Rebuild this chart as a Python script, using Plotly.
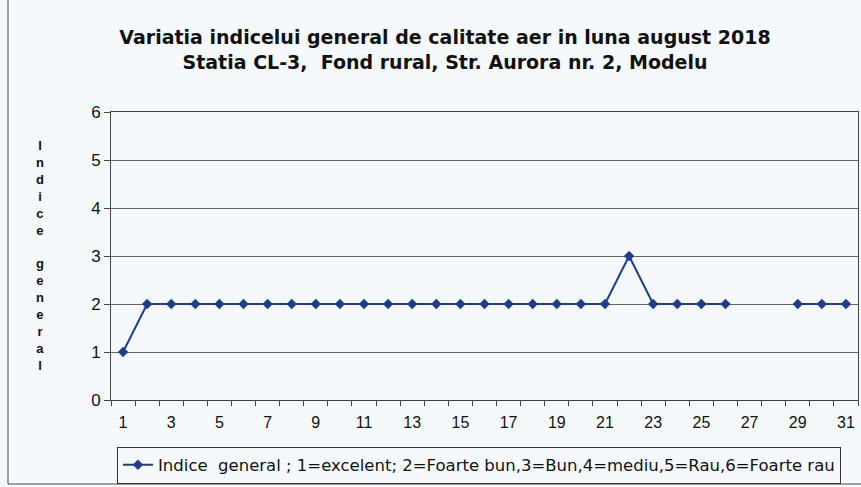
import plotly.graph_objects as go

days = list(range(1, 32))
indice = [1, 2, 2, 2, 2, 2, 2, 2, 2, 2, 2, 2, 2, 2, 2, 2, 2, 2, 2, 2, 2, 3,
          2, 2, 2, 2, None, None, 2, 2, 2]
xtick_labels = [str(d) for d in range(1, 32, 2)]
ytick_vals = [0, 1, 2, 3, 4, 5, 6]

title_text = ("Variatia indicelui general de calitate aer in luna august 2018<br>"
              "Statia CL-3,  Fond rural, Str. Aurora nr. 2, Modelu")
legend_name = "Indice  general ; 1=excelent; 2=Foarte bun,3=Bun,4=mediu,5=Rau,6=Foarte rau"

W, H = 861, 487
ML, MR, MT, MB = 111, 3, 112, 87
pw = W - ML - MR
ph = H - MT - MB

fig = go.Figure()
fig.add_trace(go.Scatter(
    x=days, y=indice, mode="lines+markers", name=legend_name,
    line=dict(color="#1f3d8c", width=2),
    marker=dict(symbol="diamond", size=8, color="#1f3d8c"),
    connectgaps=False, showlegend=True,
))

bg = "#f5f9fc"
fig.update_layout(
    width=W, height=H,
    margin=dict(l=ML, r=MR, t=MT, b=MB, autoexpand=False),
    paper_bgcolor=bg, plot_bgcolor=bg,
    font=dict(family="Liberation Sans, Arial", color="#111111"),
    title=dict(text="<b>" + title_text + "</b>", x=(445 - ML) / pw, xref="paper",
               xanchor="center", y=1 - 44 / H, yanchor="middle",
               font=dict(size=19, family="DejaVu Sans", color="#111111")),
    showlegend=True,
    legend=dict(orientation="h", x=(479 - ML) / pw, xanchor="center",
                y=-(465 - (H - MB)) / ph, yanchor="middle",
                bordercolor="#333333", borderwidth=1, bgcolor=bg,
                font=dict(size=16.5, family="DejaVu Sans")),
    xaxis=dict(
        range=[0.5, 31.5], tickmode="array",
        tickvals=list(range(1, 32, 2)), ticktext=xtick_labels,
        ticks="", showgrid=False, zeroline=False,
        showline=True, linecolor="#444444", linewidth=1, mirror=True,
        tickfont=dict(size=16, color="#111111"), ticklabelstandoff=8,
        minor=dict(tick0=0.5, dtick=1, ticks="outside", ticklen=5,
                   tickcolor="#444444", showgrid=False),
    ),
    yaxis=dict(
        range=[0, 6], tickvals=ytick_vals, ticks="outside", ticklen=6,
        tickcolor="#444444", showgrid=True, gridcolor="#666666", gridwidth=1,
        zeroline=False, showline=True, linecolor="#444444", linewidth=1, mirror=True,
        tickfont=dict(size=17, color="#111111"),
    ),
)

fig.add_annotation(
    text="<b>I<br>n<br>d<br>i<br>c<br>e<br> <br>g<br>e<br>n<br>e<br>r<br>a<br>l</b>",
    xref="paper", yref="paper",
    x=(40 - ML) / pw, y=(H - MB - 255) / ph,
    xanchor="center", yanchor="middle", showarrow=False,
    font=dict(size=13, family="Liberation Sans, Arial", color="#111111"),
)

# outer chart frame
fig.add_shape(type="rect", xref="paper", yref="paper",
              x0=(8 - ML) / pw, x1=(W + 5 - ML) / pw,
              y0=(H - MB - 484) / ph, y1=(H - MB + 5) / ph,
              line=dict(color="#444444", width=1), layer="below")

fig.write_html("out.html", config={"displayModeBar": False},
               post_script="document.body.style.margin='0';")
